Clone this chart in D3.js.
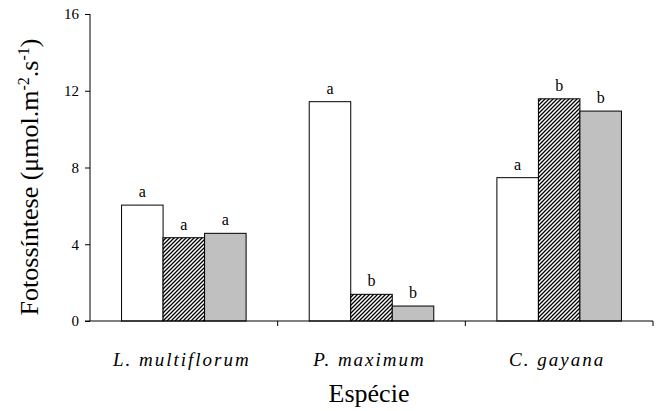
<!DOCTYPE html>
<html><head><meta charset="utf-8">
<script src="https://cdn.jsdelivr.net/npm/d3@7"></script>
<style>body{margin:0;background:#fff}svg{display:block}</style>
</head><body>
<script>
const categories = ["L. multiflorum", "P. maximum", "C. gayana"];
const seriesNames = ["s1", "s2", "s3"];
const values = [
  [6.04, 4.34, 4.57],
  [11.43, 1.39, 0.78],
  [7.47, 11.58, 10.94]
];
const letters = [
  ["a", "a", "a"],
  ["a", "b", "b"],
  ["a", "b", "b"]
];
const yTicks = [0, 4, 8, 12, 16];

const FONT = "'Liberation Serif', 'Times New Roman', serif";
const W = 657, H = 411;
const m = {left: 90, right: 4, top: 14, bottom: 90};
const svg = d3.select("body").append("svg").attr("width", W).attr("height", H);
const defs = svg.append("defs");
const pat = defs.append("pattern").attr("id", "hatch").attr("patternUnits", "userSpaceOnUse")
  .attr("width", 4).attr("height", 4);
pat.append("rect").attr("width", 4).attr("height", 4).attr("fill", "#fff");
pat.append("path").attr("d", "M-1,1 l2,-2 M0,4 l4,-4 M3,5 l2,-2").attr("stroke", "#000").attr("stroke-width", 1.3);

const x = d3.scaleBand().domain(categories).range([m.left, W - m.right]).paddingInner(0).paddingOuter(0);
const xs = d3.scaleBand().domain(seriesNames).range([0, x.bandwidth()]).paddingInner(0).paddingOuter(0.76);
const y = d3.scaleLinear().domain([0, 16]).range([H - m.bottom, m.top]);

const fills = ["#fff", "url(#hatch)", "#c0c0c0"];
const g = svg.append("g");
categories.forEach((c, i) => {
  values[i].forEach((v, j) => {
    const bx = x(c) + xs(seriesNames[j]);
    g.append("rect").attr("x", bx).attr("y", y(v)).attr("width", xs.bandwidth()).attr("height", y(0) - y(v))
      .attr("fill", fills[j]).attr("stroke", "#000").attr("stroke-width", 1);
    g.append("text").attr("x", bx + xs.bandwidth() / 2).attr("y", y(v) - 8)
      .attr("text-anchor", "middle").style("font-family", FONT).style("font-size", "16px").text(letters[i][j]);
  });
});

// y axis
const yAxis = d3.axisLeft(y).tickValues(yTicks).tickSize(5).tickPadding(6).tickFormat(d3.format("d"));
const ya = svg.append("g").attr("transform", `translate(${m.left},0)`).call(yAxis);
ya.select(".domain").attr("d", `M0,${y(16)}V${y(0)}`);
ya.selectAll("text").style("font-family", FONT).style("font-size", "15px").attr("fill", "#000");

// x axis
const xa = svg.append("g").attr("transform", `translate(0,${y(0)})`);
xa.append("line").attr("x1", m.left - 5).attr("x2", W - m.right).attr("stroke", "#000");
const bounds = categories.map(c => x(c)).concat([x(categories[categories.length - 1]) + x.bandwidth()]);
bounds.slice(1).forEach(b => xa.append("line").attr("x1", b).attr("x2", b).attr("y1", 0).attr("y2", 5).attr("stroke", "#000"));
categories.forEach(c => {
  xa.append("text").attr("x", x(c) + x.bandwidth() / 2 - 2).attr("y", 45).attr("text-anchor", "middle")
    .style("font-family", FONT).style("font-style", "italic").style("font-size", "19px")
    .style("letter-spacing", "2px").text(c);
});

svg.append("text").attr("x", 369).attr("y", 402).attr("text-anchor", "middle")
  .style("font-family", FONT).style("font-size", "26px").text("Espécie");

const yl = svg.append("text").attr("transform", `translate(38,177) rotate(-90)`)
  .attr("text-anchor", "middle").style("font-family", FONT).style("font-size", "26px");
yl.append("tspan").text("Fotossíntese (μmol.m");
yl.append("tspan").attr("dy", -9).style("font-size", "16px").text("-2");
yl.append("tspan").attr("dy", 9).text(".s");
yl.append("tspan").attr("dy", -9).style("font-size", "16px").text("-1");
yl.append("tspan").attr("dy", 9).text(")");
</script>
</body></html>
